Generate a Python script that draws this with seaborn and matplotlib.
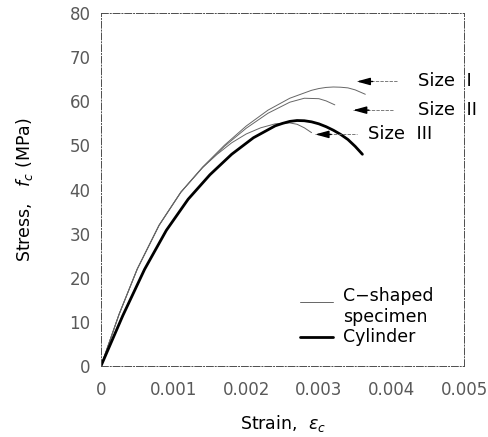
import numpy as np
import pandas as pd
import matplotlib
matplotlib.use("Agg")
import matplotlib.pyplot as plt
import seaborn as sns

# Datos (deformacion, tension en MPa)
cyl_strain = [0, 0.0003, 0.0006, 0.0009, 0.0012, 0.0015, 0.0018, 0.0021, 0.0024, 0.0025, 0.0026,
              0.0027, 0.0028, 0.0029, 0.003, 0.0031, 0.0032, 0.0033, 0.0034, 0.0035, 0.0036]
cyl_stress = [0, 11.4, 21.9, 30.75, 37.8, 43.35, 48.0, 51.75, 54.45, 55.0, 55.45,
              55.65, 55.6, 55.35, 54.9, 54.25, 53.45, 52.5, 51.35, 49.8, 48.0]

s1_strain = [0, 0.00025, 0.0005, 0.0008, 0.0011, 0.0014, 0.0017, 0.002, 0.0023, 0.0026,
             0.0029, 0.003, 0.0031, 0.0032, 0.0033, 0.0034, 0.0035, 0.00364]
s1_stress = [0, 11.75, 22.0, 31.9, 39.4, 45.1, 50.05, 54.4, 58.0, 60.7,
             62.5, 62.9, 63.15, 63.25, 63.2, 63.05, 62.6, 61.6]

s2_strain = [0, 0.00025, 0.0005, 0.0008, 0.0011, 0.0014, 0.0017, 0.002, 0.0023, 0.0026,
             0.0028, 0.003, 0.0031, 0.00322]
s2_stress = [0, 11.75, 22.0, 31.9, 39.4, 45.0, 49.8, 53.9, 57.3, 59.8,
             60.7, 60.6, 60.1, 59.2]

s3_strain = [0, 0.00025, 0.0005, 0.0008, 0.0011, 0.0014, 0.0016, 0.0018, 0.002, 0.0022,
             0.0024, 0.0026, 0.0027, 0.0028, 0.0029]
s3_stress = [0, 11.75, 22.0, 31.9, 39.4, 45.0, 48.0, 50.6, 52.6, 54.0,
             54.9, 55.1, 54.8, 54.0, 52.9]

size_labels = ["Size  I", "Size  II", "Size  III"]
arrow_y = [64.5, 58.0, 52.5]
arrow_head = [0.00352, 0.00347, 0.00295]
arrow_tail = [0.00408, 0.00402, 0.00352]
label_x = [0.00437, 0.00437, 0.00368]

x_ticks = [0, 0.001, 0.002, 0.003, 0.004, 0.005]
x_ticklabels = ["0", "0.001", "0.002", "0.003", "0.004", "0.005"]
y_ticks = [0, 10, 20, 30, 40, 50, 60, 70, 80]

sns.set_style("white")
plt.rcParams['font.family'] = ['DejaVu Sans']
plt.rcParams['text.color'] = 'black'
plt.rcParams['axes.labelcolor'] = 'black'

fig = plt.figure(figsize=(4.89, 4.37), dpi=100)
ax = fig.add_axes([0.2065, 0.1625, 0.7425, 0.8075])

thin = dict(color="0.4", lw=0.7)
sns.lineplot(x=s1_strain, y=s1_stress, ax=ax, sort=False, **thin)
sns.lineplot(x=s2_strain, y=s2_stress, ax=ax, sort=False, **thin)
sns.lineplot(x=s3_strain, y=s3_stress, ax=ax, sort=False, **thin)
sns.lineplot(x=cyl_strain, y=cyl_stress, ax=ax, sort=False, color="black", lw=2.0)

# Flechas y etiquetas de tamaño
for lab, yy, xh, xt, xl in zip(size_labels, arrow_y, arrow_head, arrow_tail, label_x):
    ax.plot([xh, xt], [yy, yy], color="0.4", lw=0.6, ls=(0, (4, 1.5)))
    ax.annotate("", xy=(xh, yy), xytext=(xh + 0.00022, yy),
                arrowprops=dict(arrowstyle="-|>,head_length=0.8,head_width=0.22",
                                lw=1.0, color="black", shrinkA=0, shrinkB=0))
    ax.text(xl, yy, lab, fontsize=13, va="center", ha="left", clip_on=False)

# Leyenda dibujada a mano
ax.plot([0.548, 0.639], [0.181, 0.181], transform=ax.transAxes, color="0.4", lw=0.7)
ax.plot([0.548, 0.639], [0.082, 0.082], transform=ax.transAxes, color="black", lw=2.0)
ax.text(0.667, 0.198, "C\u2212shaped", transform=ax.transAxes, fontsize=12.5, va="center")
ax.text(0.667, 0.140, "specimen", transform=ax.transAxes, fontsize=12.5, va="center")
ax.text(0.667, 0.082, "Cylinder", transform=ax.transAxes, fontsize=12.5, va="center")

ax.set_xlim(0, 0.005)
ax.set_ylim(0, 80)
ax.set_xticks(x_ticks)
ax.set_xticklabels(x_ticklabels)
ax.set_yticks(y_ticks)
ax.tick_params(axis="x", direction="in", length=4, width=0.6, colors="0.3",
               labelsize=12, pad=11, labelcolor="0.35")
ax.tick_params(axis="y", direction="out", length=4, width=0.6, colors="0.3",
               labelsize=12, labelcolor="0.35")

for sp in ax.spines.values():
    sp.set_visible(True)
    sp.set_color("0.3")
    sp.set_linewidth(0.7)
    sp.set_linestyle((0, (7, 2, 1, 2)))

ax.set_xlabel("Strain,  $\\varepsilon_c$", fontsize=12.5, labelpad=10)
ax.set_ylabel("Stress,   $f_c$ (MPa)", fontsize=12.5, labelpad=25)

fig.savefig("out.png", dpi=100)
